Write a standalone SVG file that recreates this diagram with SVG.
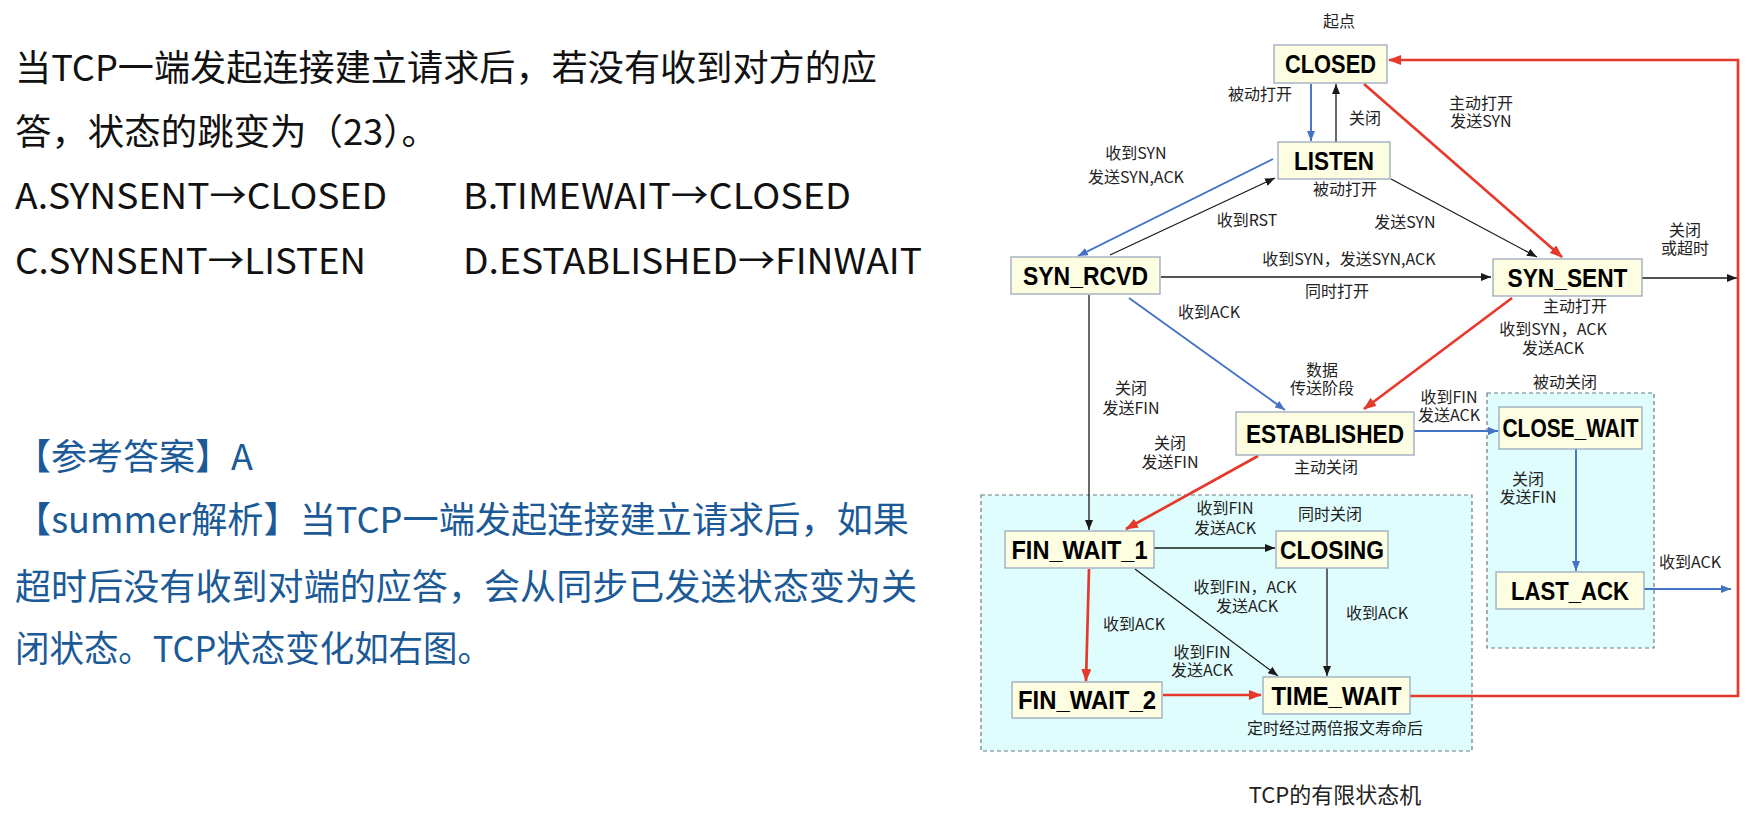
<svg xmlns="http://www.w3.org/2000/svg" width="1748" height="829" viewBox="0 0 1748 829">
<style>
.q{font-family:"Noto Sans CJK SC","Noto Sans",sans-serif;font-size:36px;fill:#111}
.a{font-family:"Noto Sans CJK SC","Noto Sans",sans-serif;font-size:36px;fill:#1b5a97}
.node rect{fill:#fdfde1;stroke:#9aaabd;stroke-width:1.3}
.node text{font-family:"Liberation Sans","Noto Sans",sans-serif;font-weight:bold;font-size:25px;fill:#000;text-anchor:middle}
.lbl{font-family:"Noto Sans CJK SC","Noto Sans",sans-serif;font-size:16px;fill:#222;text-anchor:middle}
.zone{fill:#dffdfd;stroke:#6f7a80;stroke-width:1.2;stroke-dasharray:4 3}
.k{stroke:#1a1a1a;stroke-width:1.3;fill:none;marker-end:url(#ak)}
.b{stroke:#4472c4;stroke-width:1.9;fill:none;marker-end:url(#ab)}
.r{stroke:#e5392b;stroke-width:2.7;fill:none;marker-end:url(#ar)}
</style>
<defs>
<marker id="ak" markerUnits="userSpaceOnUse" markerWidth="10" markerHeight="8" refX="10" refY="4" orient="auto"><path d="M0,0 L10,4 L0,8 Z" fill="#1a1a1a"/></marker>
<marker id="ab" markerUnits="userSpaceOnUse" markerWidth="10" markerHeight="8" refX="10" refY="4" orient="auto"><path d="M0,0 L10,4 L0,8 Z" fill="#4472c4"/></marker>
<marker id="ar" markerUnits="userSpaceOnUse" markerWidth="13" markerHeight="10" refX="12" refY="5" orient="auto"><path d="M0,0 L13,5 L0,10 Z" fill="#e5392b"/></marker>
</defs>
<rect width="1748" height="829" fill="#ffffff"/>

<g id="question">
<text class="q" x="15" y="81" textLength="862" lengthAdjust="spacingAndGlyphs">当TCP一端发起连接建立请求后，若没有收到对方的应</text>
<text class="q" x="15" y="145" textLength="423" lengthAdjust="spacingAndGlyphs">答，状态的跳变为（23）。</text>
<text class="q" x="15" y="209" textLength="372" lengthAdjust="spacingAndGlyphs">A.SYNSENT→CLOSED</text>
<text class="q" x="463" y="209" textLength="388" lengthAdjust="spacingAndGlyphs">B.TIMEWAIT→CLOSED</text>
<text class="q" x="15" y="274" textLength="351" lengthAdjust="spacingAndGlyphs">C.SYNSENT→LISTEN</text>
<text class="q" x="463" y="274" textLength="459" lengthAdjust="spacingAndGlyphs">D.ESTABLISHED→FINWAIT</text>
</g>
<g id="answer">
<text class="a" x="15" y="470">【参考答案】A</text>
<text class="a" x="15" y="533" textLength="894" lengthAdjust="spacingAndGlyphs">【summer解析】当TCP一端发起连接建立请求后，如果</text>
<text class="a" x="15" y="600" textLength="902" lengthAdjust="spacingAndGlyphs">超时后没有收到对端的应答，会从同步已发送状态变为关</text>
<text class="a" x="15" y="662" textLength="477" lengthAdjust="spacingAndGlyphs">闭状态。TCP状态变化如右图。</text>
</g>

<g id="zones">
<rect class="zone" x="981" y="495" width="491" height="256"/>
<rect class="zone" x="1487" y="393" width="167" height="255"/>
</g>

<g id="connectors">
<path class="k" d="M1336,142 L1336,84"/>
<path class="k" d="M1110,255 L1275,178"/>
<path class="k" d="M1391,179 L1537,257"/>
<path class="k" d="M1161,277 L1491,277"/>
<path class="k" d="M1642,278 L1737,278"/>
<path class="k" d="M1089,295 L1089,530"/>
<path class="k" d="M1154,548 L1275,548"/>
<path class="k" d="M1135,569 L1278,676"/>
<path class="k" d="M1327,568 L1327,676"/>
<path class="b" d="M1311,84 L1311,141"/>
<path class="b" d="M1273,159 L1078,256"/>
<path class="b" d="M1129,298 L1285,410"/>
<path class="b" d="M1414,431 L1498,431"/>
<path class="b" d="M1576,449 L1576,571"/>
<path class="b" d="M1644,589 L1731,589"/>
<path class="r" d="M1364,84 L1562,257"/>
<path class="r" d="M1512,298 L1364,409"/>
<path class="r" d="M1258,456 L1126,529"/>
<path class="r" d="M1089,569 L1086,681"/>
<path class="r" d="M1163,695 L1261,695"/>
<path class="r" d="M1410,696 L1738,696 L1738,60 L1389,60"/>
</g>

<g id="node-closed" class="node"><rect x="1274" y="45" width="113" height="38"/><text x="1330.5" y="73" textLength="91" lengthAdjust="spacingAndGlyphs">CLOSED</text></g>
<g id="node-listen" class="node"><rect x="1278" y="142" width="112" height="37"/><text x="1334" y="169.5" textLength="80" lengthAdjust="spacingAndGlyphs">LISTEN</text></g>
<g id="node-syn-rcvd" class="node"><rect x="1011" y="257" width="149" height="37"/><text x="1085.5" y="284.5" textLength="125" lengthAdjust="spacingAndGlyphs">SYN_RCVD</text></g>
<g id="node-syn-sent" class="node"><rect x="1493" y="259" width="149" height="37"/><text x="1567.5" y="286.5" textLength="120" lengthAdjust="spacingAndGlyphs">SYN_SENT</text></g>
<g id="node-established" class="node"><rect x="1236" y="412" width="178" height="43"/><text x="1325" y="442.5" textLength="158" lengthAdjust="spacingAndGlyphs">ESTABLISHED</text></g>
<g id="node-close-wait" class="node"><rect x="1499" y="407" width="143" height="42"/><text x="1570.5" y="437" textLength="136" lengthAdjust="spacingAndGlyphs">CLOSE_WAIT</text></g>
<g id="node-fin-wait-1" class="node"><rect x="1005" y="531" width="149" height="37"/><text x="1079.5" y="558.5" textLength="136" lengthAdjust="spacingAndGlyphs">FIN_WAIT_1</text></g>
<g id="node-closing" class="node"><rect x="1276" y="531" width="112" height="37"/><text x="1332" y="558.5" textLength="104" lengthAdjust="spacingAndGlyphs">CLOSING</text></g>
<g id="node-last-ack" class="node"><rect x="1496" y="572" width="148" height="37"/><text x="1570" y="599.5" textLength="118" lengthAdjust="spacingAndGlyphs">LAST_ACK</text></g>
<g id="node-fin-wait-2" class="node"><rect x="1012" y="682" width="150" height="36"/><text x="1087" y="709" textLength="138" lengthAdjust="spacingAndGlyphs">FIN_WAIT_2</text></g>
<g id="node-time-wait" class="node"><rect x="1263" y="677" width="147" height="37"/><text x="1336.5" y="704.5" textLength="130" lengthAdjust="spacingAndGlyphs">TIME_WAIT</text></g>

<g id="labels">
<text class="lbl" x="1339" y="27">起点</text>
<text class="lbl" x="1260" y="100">被动打开</text>
<text class="lbl" x="1365" y="124">关闭</text>
<text class="lbl" x="1481" y="109">主动打开<tspan x="1481" dy="18">发送SYN</tspan></text>
<text class="lbl" x="1136" y="159">收到SYN<tspan x="1136" dy="24">发送SYN,ACK</tspan></text>
<text class="lbl" x="1345" y="195">被动打开</text>
<text class="lbl" x="1247" y="226">收到RST</text>
<text class="lbl" x="1405" y="228">发送SYN</text>
<text class="lbl" x="1349" y="265">收到SYN，发送SYN,ACK</text>
<text class="lbl" x="1337" y="297">同时打开</text>
<text class="lbl" x="1685" y="236">关闭<tspan x="1685" dy="18">或超时</tspan></text>
<text class="lbl" x="1575" y="312">主动打开</text>
<text class="lbl" x="1553" y="335">收到SYN，ACK<tspan x="1553" dy="19">发送ACK</tspan></text>
<text class="lbl" x="1209" y="318">收到ACK</text>
<text class="lbl" x="1131" y="394">关闭<tspan x="1131" dy="20">发送FIN</tspan></text>
<text class="lbl" x="1322" y="376">数据<tspan x="1322" dy="18">传送阶段</tspan></text>
<text class="lbl" x="1565" y="388">被动关闭</text>
<text class="lbl" x="1449" y="403">收到FIN<tspan x="1449" dy="18">发送ACK</tspan></text>
<text class="lbl" x="1170" y="449">关闭<tspan x="1170" dy="19">发送FIN</tspan></text>
<text class="lbl" x="1326" y="473">主动关闭</text>
<text class="lbl" x="1225" y="514">收到FIN<tspan x="1225" dy="20">发送ACK</tspan></text>
<text class="lbl" x="1330" y="520">同时关闭</text>
<text class="lbl" x="1528" y="485">关闭<tspan x="1528" dy="18">发送FIN</tspan></text>
<text class="lbl" x="1245" y="593">收到FIN，ACK<tspan x="1247" dy="19">发送ACK</tspan></text>
<text class="lbl" x="1134" y="630">收到ACK</text>
<text class="lbl" x="1377" y="619">收到ACK</text>
<text class="lbl" x="1202" y="658">收到FIN<tspan x="1202" dy="18">发送ACK</tspan></text>
<text class="lbl" x="1690" y="568">收到ACK</text>
<text class="lbl" x="1335" y="734">定时经过两倍报文寿命后</text>
<text class="lbl" x="1335" y="803" style="font-size:22px">TCP的有限状态机</text>
</g>
</svg>
